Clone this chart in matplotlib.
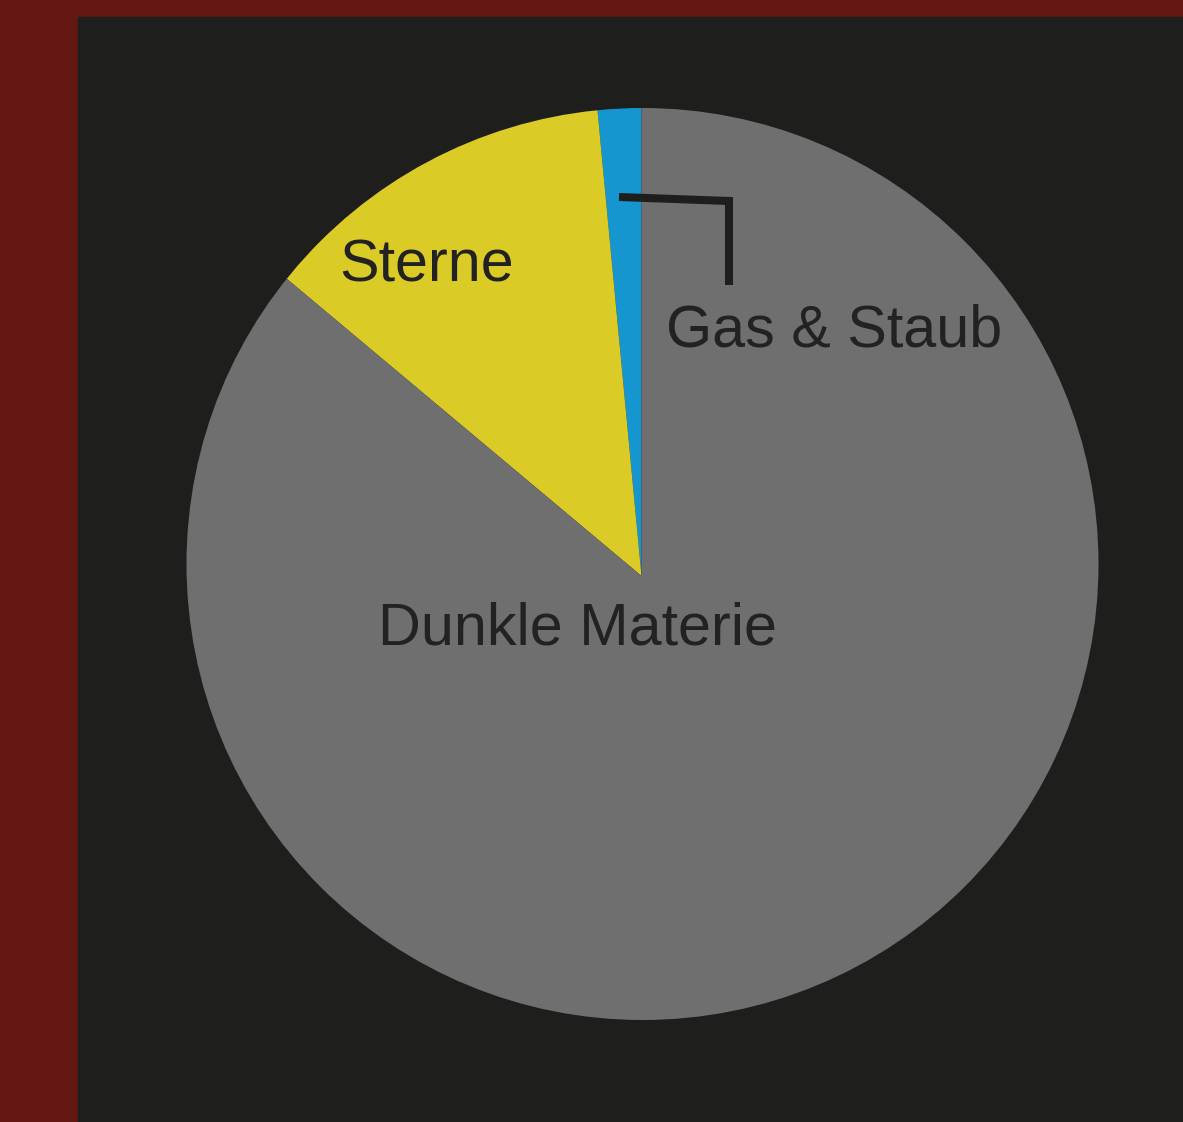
import matplotlib.pyplot as plt
from matplotlib.patches import Rectangle, Circle

# data (Prozent der Masse)
labels = ['Gas & Staub', 'Sterne', 'Dunkle Materie']
values = [1.5, 12.4, 86.1]
colors = ['#1596cf', '#dbcb26', '#6f6f6f']

W, H = 1183, 1122
fig = plt.figure(figsize=(W / 100, H / 100), dpi=100, facecolor='#621712')
ax = fig.add_axes([0, 0, 1, 1])

# dunkles Panel
ax.add_patch(Rectangle((78, 0), W - 78, H - 17, color='#1e1e1c', zorder=0))

# Kreis (Umriss) und Spitze der Segmente liegen nicht ganz aufeinander
cx, cy, r = 642.5, H - 564, 456
apex = (641.5, H - 576)
wedges, _ = ax.pie(values, colors=colors, startangle=90, counterclock=True,
                   center=apex, radius=r + 25, frame=True,
                   wedgeprops=dict(linewidth=0))

ax.set_xlim(0, W)
ax.set_ylim(0, H)
ax.set_aspect('equal')
ax.axis('off')

clip = Circle((cx, cy), r, facecolor='none', edgecolor='none', lw=0)
ax.add_patch(clip)
for w in wedges:
    w.set_clip_on(True)  # pie setzt clip_on=False
    w.set_clip_path(clip)

txt = dict(fontsize=42.7, color='#222222', family='Liberation Sans',
           ha='center', va='center')
ax.text(427, H - 266, 'Sterne', **txt)
ax.text(834, H - 331, 'Gas & Staub', **txt)
ax.text(578, H - 629, 'Dunkle Materie', **txt)

# Hinweislinie fuer Gas & Staub
ax.plot([619, 729, 729], [H - 197, H - 201, H - 285], color='#1e1e1c',
        lw=5.8, solid_joinstyle='miter', solid_capstyle='butt')

fig.savefig('out.png', dpi=100, facecolor=fig.get_facecolor())
